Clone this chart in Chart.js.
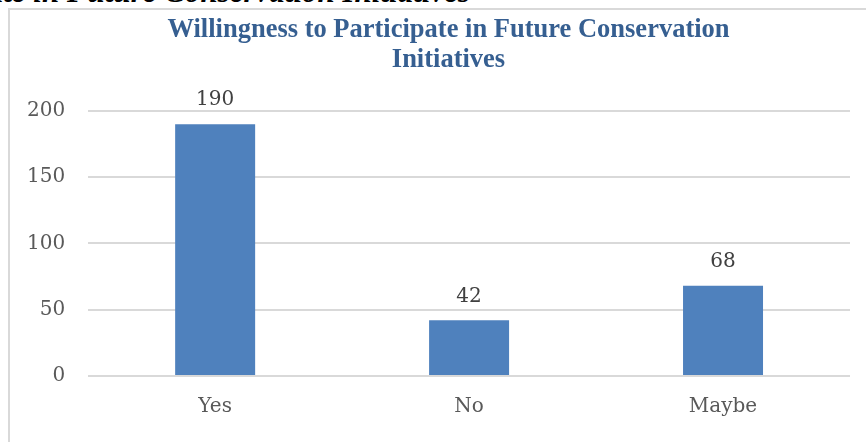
<!DOCTYPE html>
<html>
<head>
<meta charset="utf-8">
<script src="https://cdn.jsdelivr.net/npm/chart.js@4.4.0/dist/chart.umd.min.js"></script>
<style>
  body { margin: 0; width: 866px; height: 442px; overflow: hidden; background: #fff; position: relative; }
  #caption { position: absolute; right: 396px; top: -24px; white-space: nowrap;
             font: italic bold 31px "Liberation Serif", serif; line-height: 31px; color: #000; }
  #frame { position: absolute; left: 8px; top: 8px; width: 900px; height: 500px;
           border-left: 2px solid #d9d9d9; border-top: 2px solid #d9d9d9; }
  #chart { position: absolute; left: 0; top: 0; }
</style>
</head>
<body>
<div id="caption">Figure 6: Willingness to Participate in Future Conservation Initiatives</div>
<div id="frame"></div>
<canvas id="chart" width="893" height="442"></canvas>
<script>
var answers = ['Yes', 'No', 'Maybe'];
var counts = [190, 42, 68];
var yTicks = [0, 50, 100, 150, 200];
var chartTitle = ['Willingness to Participate in Future Conservation', 'Initiatives'];

// numbers above the bars
var valueLabels = {
    id: 'valueLabels',
    afterDatasetsDraw: function (chart) {
        var ctx = chart.ctx;
        var meta = chart.getDatasetMeta(0);
        ctx.save();
        ctx.font = '20px "DejaVu Serif"';
        ctx.fillStyle = '#404040';
        ctx.textAlign = 'center';
        ctx.textBaseline = 'middle';
        meta.data.forEach(function (bar, i) {
            ctx.fillText(counts[i], bar.x, bar.y - 24);
        });
        ctx.restore();
    }
};

var myBarChart = new Chart(document.getElementById('chart'), {
    type: 'bar',
    data: {
        labels: answers,
        datasets: [{
            data: counts,
            backgroundColor: '#4f81bd',
            borderWidth: 0,
            categoryPercentage: 1,
            barPercentage: 0.315
        }]
    },
    options: {
        responsive: false,
        animation: false,
        devicePixelRatio: 1,
        layout: { padding: { left: 4, right: 0, top: 0, bottom: 4 } },
        plugins: {
            legend: { display: false },
            tooltip: { enabled: false },
            title: {
                display: true,
                text: chartTitle,
                color: '#365f91',
                font: { family: 'Liberation Serif', size: 26.5, weight: 'bold', lineHeight: 1.13 },
                padding: { top: 15, bottom: 36 }
            }
        },
        scales: {
            x: {
                grid: { display: false, drawTicks: false },
                border: { display: false },
                ticks: { color: '#595959', padding: 19, font: { family: 'DejaVu Serif', size: 20 } }
            },
            y: {
                min: 0,
                max: 200,
                afterBuildTicks: function (scale) {
                    scale.ticks = yTicks.map(function (v) { return { value: v }; });
                },
                grid: { color: '#d9d9d9', lineWidth: 2, drawTicks: false },
                border: { display: false },
                ticks: { color: '#595959', padding: 23, font: { family: 'DejaVu Serif', size: 20 } }
            },
            // empty axis on the right, only to keep the plot narrower than the title box
            yRight: {
                position: 'right',
                grid: { display: false, drawTicks: false },
                border: { display: false },
                ticks: { display: false },
                afterFit: function (scale) { scale.width = 43; }
            }
        }
    },
    plugins: [valueLabels]
});
</script>
</body>
</html>
